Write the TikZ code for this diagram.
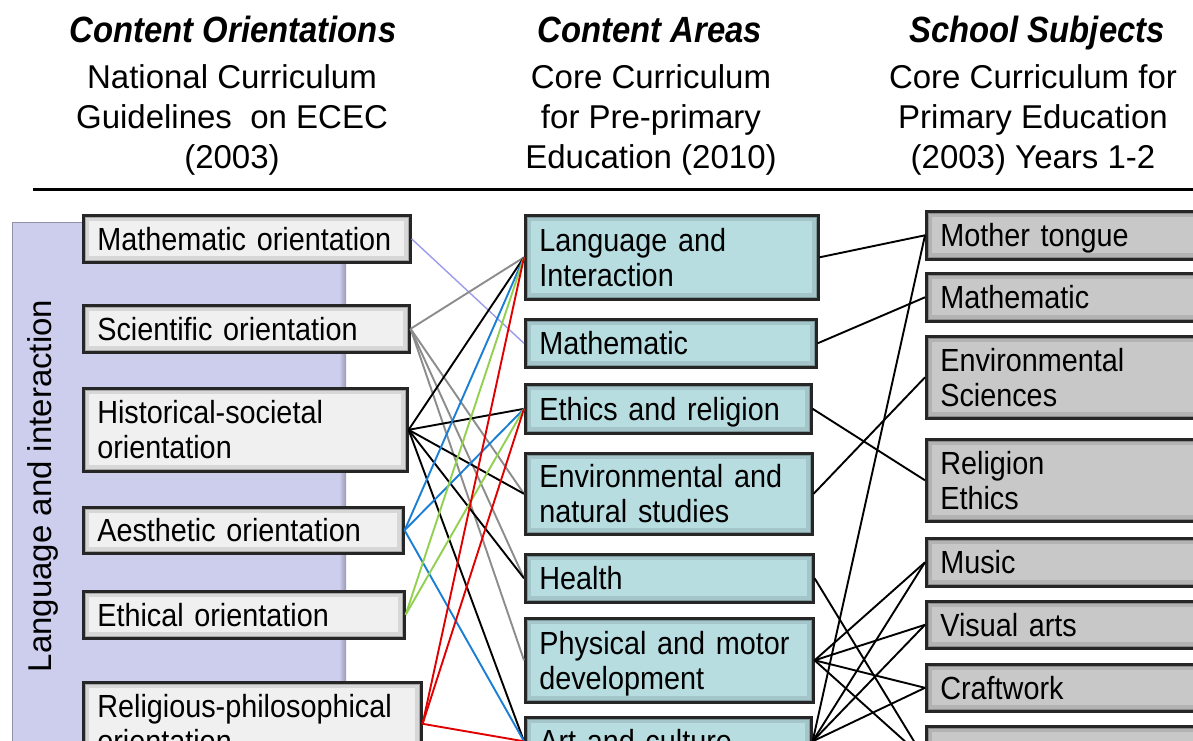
\documentclass[tikz,border=0pt]{standalone}
\usepackage{fontspec}
\setmainfont{Liberation Sans}
\newfontfamily\nf[FakeStretch=0.9]{Liberation Sans}
\definecolor{lgray}{HTML}{F0F0F0}
\definecolor{mteal}{HTML}{B7DDE1}
\definecolor{rgray}{HTML}{C8C8C8}
\definecolor{lav}{HTML}{CDCDEE}
\definecolor{clav}{HTML}{9C9CEC}
\definecolor{cgray}{HTML}{8C8C8C}
\definecolor{cblue}{HTML}{1A7FD4}
\definecolor{cgreen}{HTML}{92D050}
\definecolor{cred}{HTML}{E00000}
\tikzset{
  cbox/.style={rectangle, anchor=north west, draw=black!85, line width=2.6pt,
    inner xsep=14pt, inner ysep=0pt, align=left, text height=23pt, text depth=0pt,
    font=\nf\fontsize{32}{35}\selectfont,
    path picture={
      \draw[black, opacity=0.10, line width=12pt] (path picture bounding box.south west) rectangle (path picture bounding box.north east);
      \draw[black, opacity=0.22, line width=5pt] (path picture bounding box.south west) rectangle (path picture bounding box.north east);
    }},
  two/.style={text depth=35pt},
  lbox/.style={cbox, fill=lgray},
  mbox/.style={cbox, fill=mteal},
  rbox/.style={cbox, fill=rgray},
  hb/.style={inner sep=0pt, font=\nf\bfseries\itshape\fontsize{36.5}{40}\selectfont},
  hs/.style={inner sep=0pt, align=center, font=\fontsize{33}{40}\selectfont},
  c/.style={line width=1.9pt},
}
\begin{document}
\begin{tikzpicture}[x=1pt,y=-1pt]
\useasboundingbox (0,0) rectangle (1193,740);
\clip (0,0) rectangle (1193,740);
\fill[white] (0,0) rectangle (1193,740);

% headers
\node[hb, anchor=base] (h1) at (233,42) {Content Orientations};
\node[hs] (s1) at (232,120) {National Curriculum\\Guidelines\ \ on ECEC\\(2003)};
\node[hb, anchor=base] (h2) at (650,42) {Content Areas};
\node[hs] (s2) at (651,120) {Core Curriculum\\for Pre-primary\\Education (2010)};
\node[hb, anchor=base] (h3) at (1037,42) {School Subjects};
\node[hs] (s3) at (1033,120) {Core Curriculum for\\Primary Education\\(2003) Years 1-2};
\coordinate (ruleL) at (33,189);
\coordinate (ruleR) at (1200,189);
\draw[line width=3pt] (ruleL) -- (ruleR);

% lavender panel
\fill[lav] (12,222) rectangle (346,800);
\fill[left color=lav, right color=lav!75!black] (339,222) rectangle (346,800);
\draw[lav!70!black, line width=1pt] (12,800) -- (12,222) -- (346,222);
\node[rotate=90, inner sep=0pt, font=\fontsize{33}{36}\selectfont] (lbl) at (43,486) {Language and interaction};

% left column
\node[lbox, text width=299pt, minimum height=47pt] (lmath) at (82,214) {Mathematic orientation};
\node[lbox, text width=298pt, minimum height=47pt] (lsci) at (82,304) {Scientific orientation};
\node[lbox, two, text width=296pt, minimum height=83pt] (lhist) at (82,387) {Historical-societal\\orientation};
\node[lbox, text width=292pt, minimum height=46pt] (laes) at (82,506) {Aesthetic orientation};
\node[lbox, text width=293pt, minimum height=47pt] (leth) at (82,590) {Ethical orientation};
\node[lbox, two, text width=310pt, minimum height=83pt] (lrel) at (82,681) {Religious-philosophical\\orientation};

% middle column
\node[mbox, two, text width=265pt, minimum height=84pt] (mlang) at (524,214) {Language and\\Interaction};
\node[mbox, text width=263pt, minimum height=48pt] (mmath) at (524,318) {Mathematic};
\node[mbox, text width=258pt, minimum height=49pt] (meth) at (524,383) {Ethics and religion};
\node[mbox, two, text width=259pt, minimum height=81pt] (menv) at (524,452) {Environmental and\\natural studies};
\node[mbox, text width=260pt, minimum height=48pt] (mhealth) at (524,553) {Health};
\node[mbox, two, text width=260pt, minimum height=84pt] (mphys) at (524,617) {Physical and motor\\development};
\node[mbox, text width=258pt, minimum height=48pt] (mart) at (524,716) {Art and culture};

% right column
\node[rbox, text width=262pt, minimum height=48pt] (rmt) at (925,210) {Mother tongue};
\node[rbox, text width=262pt, minimum height=48pt] (rmath) at (925,272) {Mathematic};
\node[rbox, two, text width=262pt, minimum height=82pt] (renv) at (925,335) {Environmental\\Sciences};
\node[rbox, two, text width=262pt, minimum height=82pt] (rrel) at (925,438) {Religion\\Ethics};
\node[rbox, text width=262pt, minimum height=48pt] (rmus) at (925,537) {Music};
\node[rbox, text width=262pt, minimum height=47pt] (rvis) at (925,600) {Visual arts};
\node[rbox, text width=262pt, minimum height=47pt] (rcraft) at (925,663) {Craftwork};
\node[rbox, text width=262pt, minimum height=66pt] (rpe) at (925,725) {};

% left -> middle
\draw[c, clav, line width=1.4pt] (lmath.east) -- (mmath.west);
\foreach \t in {mlang,menv,mhealth,mphys} \draw[c, cgray] (lsci.east) -- (\t.west);
\foreach \t in {mlang,meth,menv,mhealth,mart} \draw[c, black] (lhist.east) -- (\t.west);
\foreach \t in {mlang,meth,mart} \draw[c, cblue] (laes.east) -- (\t.west);
\foreach \t in {mlang,meth} \draw[c, cgreen] (leth.east) -- (\t.west);
\foreach \t in {mlang,meth,mart} \draw[c, cred] (lrel.east) -- (\t.west);

% middle -> right
\draw[c] (mlang.east) -- (rmt.west);
\draw[c] (mmath.east) -- (rmath.west);
\draw[c] (meth.east) -- (rrel.west);
\draw[c] (menv.east) -- (renv.west);
\draw[c] (mhealth.east) -- (rpe.west);
\foreach \t in {rmus,rvis,rcraft,rpe} \draw[c] (mphys.east) -- (\t.west);
\foreach \t in {rmt,rmus,rvis,rcraft} \draw[c] (mart.east) -- (\t.west);
\end{tikzpicture}
\end{document}
